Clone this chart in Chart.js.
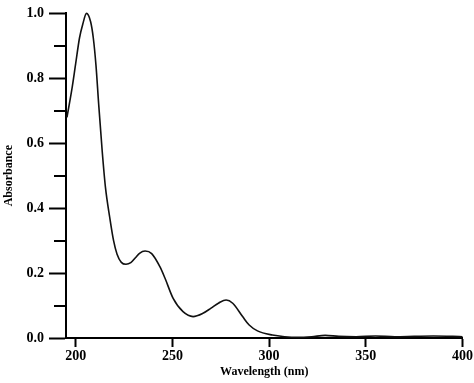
<!DOCTYPE html>
<html>
<head>
<meta charset="utf-8">
<script src="https://cdn.jsdelivr.net/npm/chart.js@4.4.0/dist/chart.umd.min.js"></script>
<style>
  body { margin: 0; background: #fff; }
  canvas { display: block; }
</style>
</head>
<body>
<canvas id="spectrum" width="474" height="383"></canvas>
<script>
// UV spectrum
const wavelength = [195.5, 198, 200, 202, 203.6, 205.6, 207.7, 209.1, 210.5, 211.9, 213.7, 215.4, 217.6, 219.6, 221.4, 223.6, 226, 228.5, 231, 233, 235.9, 239.3, 243.6, 246.2, 250.4, 255.5, 260.7, 265.8, 270, 274, 277.8, 281.2, 286.3, 289.7, 294, 301.7, 308, 315, 322, 329, 336, 345, 355, 365, 375, 385, 395, 400];
const absorbance = [0.68, 0.765, 0.845, 0.925, 0.965, 1.0, 0.975, 0.925, 0.84, 0.72, 0.577, 0.464, 0.372, 0.30, 0.258, 0.233, 0.227, 0.232, 0.248, 0.261, 0.268, 0.26, 0.219, 0.184, 0.122, 0.081, 0.066, 0.076, 0.092, 0.108, 0.117, 0.107, 0.066, 0.04, 0.022, 0.009, 0.004, 0.002, 0.004, 0.008, 0.005, 0.004, 0.006, 0.004, 0.005, 0.006, 0.005, 0.004];
const xTicks = [200, 250, 300, 350, 400];
const yTicks = [0.0, 0.2, 0.4, 0.6, 0.8, 1.0];
const yMinorTicks = [0.1, 0.3, 0.5, 0.7, 0.9];

const points = wavelength.map((w, i) => ({ x: w, y: absorbance[i] }));

// short ticks between the labelled ones on the y axis
const minorTicks = {
  id: 'minorTicks',
  afterDraw(chart) {
    const y = chart.scales.y;
    const ctx = chart.ctx;
    ctx.save();
    ctx.strokeStyle = '#000';
    ctx.lineWidth = 2;
    yMinorTicks.forEach(v => {
      const py = Math.round(y.getPixelForValue(v));
      ctx.beginPath();
      ctx.moveTo(y.right - 12, py);
      ctx.lineTo(y.right, py);
      ctx.stroke();
    });
    ctx.restore();
  }
};

const serif = 'Liberation Serif';

new Chart(document.getElementById('spectrum'), {
  type: 'line',
  data: {
    datasets: [{
      data: points,
      borderColor: '#111',
      borderWidth: 1.6,
      pointRadius: 0,
      cubicInterpolationMode: 'monotone',
      fill: false,
      clip: false
    }]
  },
  options: {
    responsive: false,
    animation: false,
    layout: { padding: { top: 12, right: 11, left: 0, bottom: 0 } },
    plugins: { legend: { display: false }, tooltip: { enabled: false } },
    scales: {
      x: {
        type: 'linear',
        min: 195,
        max: 400,
        afterBuildTicks: s => { s.ticks = xTicks.map(v => ({ value: v })); },
        afterFit: s => { s.height = 45; },
        border: { color: '#000', width: 2 },
        grid: { drawOnChartArea: false, tickLength: 9, tickWidth: 2, tickColor: '#000' },
        ticks: { color: '#000', padding: 1, maxRotation: 0, font: { family: serif, size: 14, weight: 'bold' } },
        title: { display: true, text: 'Wavelength (nm)', color: '#000', padding: { top: 0, bottom: 4 }, font: { family: serif, size: 12, weight: 'bold' } }
      },
      y: {
        min: 0,
        max: 1.0,
        afterBuildTicks: s => { s.ticks = yTicks.map(v => ({ value: v })); },
        afterFit: s => { s.width = 66; },
        border: { color: '#000', width: 2 },
        grid: { drawOnChartArea: false, tickLength: 17, tickWidth: 2, tickColor: '#000' },
        ticks: { color: '#000', padding: 5, callback: v => v.toFixed(1), font: { family: serif, size: 14, weight: 'bold' } },
        title: { display: true, text: 'Absorbance', color: '#000', padding: { top: 2, bottom: 0 }, font: { family: serif, size: 12, weight: 'bold' } }
      }
    }
  },
  plugins: [minorTicks]
});
</script>
</body>
</html>
